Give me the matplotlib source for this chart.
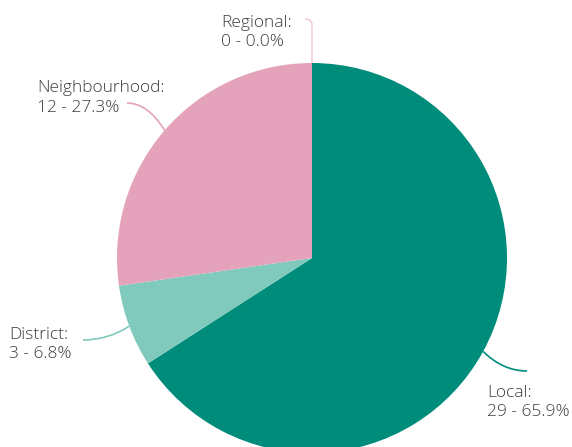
import numpy as np
import matplotlib
matplotlib.use("Agg")
import matplotlib.pyplot as plt
from matplotlib.path import Path
from matplotlib.patches import PathPatch

categories = ["Local", "District", "Neighbourhood", "Regional"]
counts = [29, 3, 12, 0]
colors = ["#008c7a", "#7fcabd", "#e4a3bb", "#f3cdda"]

W, H = 572, 447
fig = plt.figure(figsize=(W / 100, H / 100), dpi=100)
ax = fig.add_axes([0, 0, 1, 1])

def Y(y):
    return H - y

cx, cy, r = 312, Y(258), 195
start = 90
wedges, _ = ax.pie(counts, colors=colors, startangle=start, counterclock=False,
                   center=(cx, cy), radius=r, frame=True,
                   wedgeprops=dict(linewidth=0))
ax.set_xlim(0, W)
ax.set_ylim(0, H)
ax.set_aspect("equal")
ax.axis("off")

total = sum(counts)
# label anchors: left x, first-line baseline (pixel coords)
label_pos = {"Local": (487, 397), "District": (9, 339),
             "Neighbourhood": (37, 92), "Regional": (221, 27)}
leader_end = {"Local": (527, 371), "District": (83, 340),
              "Neighbourhood": (127, 103), "Regional": (305, 19)}

cum = 0
for cat, val, col in zip(categories, counts, colors):
    frac = val / total
    mid = np.deg2rad(start - 360 * (cum + frac / 2))
    cum += frac
    px, py = cx + r * np.cos(mid), cy + r * np.sin(mid)
    ex, ey = leader_end[cat]
    ey = Y(ey)
    if cat == "Regional":
        verts = [(px, py), (px, ey - 6), (px, ey), (ex, ey)]
        codes = [Path.MOVETO, Path.LINETO, Path.CURVE3, Path.CURVE3]
    else:
        ctrl = (px + (ex - px) * 0.45, ey)
        verts = [(px, py), ctrl, (ex, ey)]
        codes = [Path.MOVETO, Path.CURVE3, Path.CURVE3]
    ax.add_patch(PathPatch(Path(verts, codes), fill=False, edgecolor=col, lw=1.2))
    lx, ly = label_pos[cat]
    lines = [f"{cat}:", f"{val} - {frac*100:.1f}%"]
    for i, line in enumerate(lines):
        ax.text(lx, Y(ly + 19.5 * i), line, ha="left", va="baseline",
                fontsize=12.5, color="#3d3d3d", family="Open Sans",
                fontweight="light")

fig.savefig("out.png", dpi=100)
